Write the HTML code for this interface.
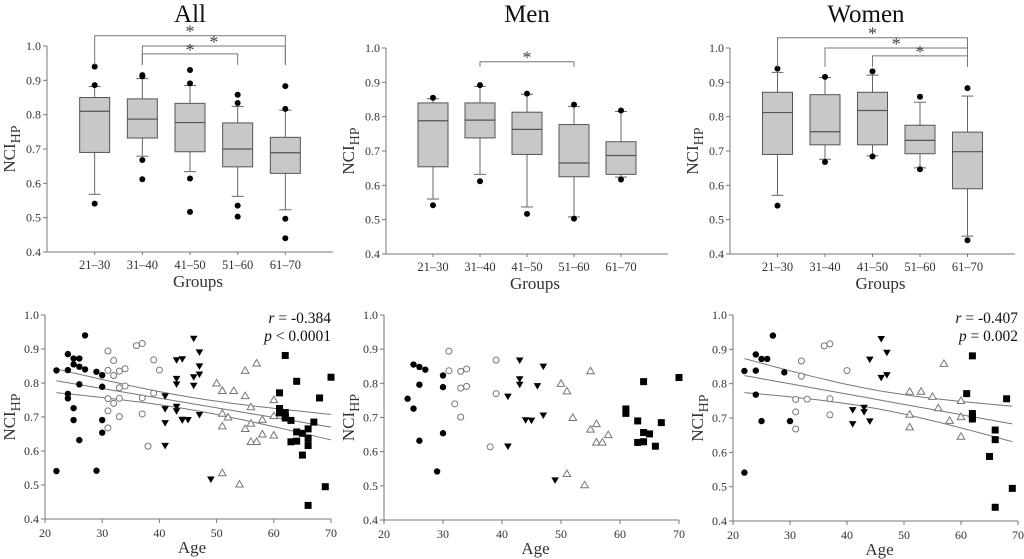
<!DOCTYPE html>
<html><head><meta charset="utf-8">
<style>
html,body{margin:0;padding:0;background:#fff;}
svg{display:block;font-family:"Liberation Serif",serif;}
</style></head>
<body>
<svg id="fig" width="1024" height="559" viewBox="0 0 1024 559"></svg>
<script>
// ---------- DATA ----------
const groups = ["21–30","31–40","41–50","51–60","61–70"];
const yTicks = ["0.4","0.5","0.6","0.7","0.8","0.9","1.0"];
const xTicksAge = ["20","30","40","50","60","70"];
// box stats per group: [whiskerLow, q1, median, q3, whiskerHigh]
const boxAll = [[0.568,0.69,0.81,0.85,0.882],[0.679,0.732,0.787,0.846,0.905],[0.634,0.692,0.777,0.833,0.885],[0.562,0.648,0.70,0.776,0.824],[0.523,0.629,0.689,0.734,0.813]];
const outAll = [[0.94,0.886,0.541],[0.915,0.912,0.668,0.612],[0.93,0.891,0.614,0.517],[0.858,0.834,0.535,0.503],[0.883,0.817,0.497,0.44]];
const boxMen = [[0.56,0.654,0.788,0.84,0.852],[0.632,0.738,0.79,0.84,0.888],[0.537,0.69,0.763,0.813,0.865],[0.508,0.625,0.665,0.777,0.83],[0.624,0.632,0.687,0.727,0.815]];
const outMen = [[0.855,0.542],[0.892,0.612],[0.867,0.517],[0.835,0.503],[0.818,0.617]];
const boxWomen = [[0.571,0.69,0.812,0.871,0.929],[0.676,0.718,0.756,0.864,0.914],[0.686,0.718,0.818,0.871,0.921],[0.651,0.692,0.731,0.775,0.842],[0.452,0.59,0.698,0.755,0.86]];
const outWomen = [[0.94,0.541],[0.916,0.668],[0.932,0.684],[0.858,0.647],[0.883,0.44]];
// significance brackets [fromGroup, toGroup, level]
const sigAll = [[0,4,1.03],[1,4,1.0],[1,3,0.977]];
const sigMen = [[1,3,0.96]];
const sigWomen = [[0,4,1.03],[1,4,1.0],[2,4,0.977]];
// scatter (age, value) per age group; men
const menAge1=[24,25,26,27,26,25,26,29,30,30,30], menVal1=[0.755,0.855,0.848,0.84,0.796,0.726,0.632,0.542,0.823,0.789,0.654];
const menAge2=[31,31,33,34,33,34,32,33,38,39,39], menVal2=[0.894,0.837,0.835,0.842,0.786,0.791,0.74,0.701,0.614,0.868,0.77];
const menAge3=[43,43,43,41,47,46,47,44,45,41,49], menVal3=[0.867,0.812,0.796,0.761,0.849,0.792,0.706,0.692,0.691,0.615,0.516];
const menAge4=[55,50,51,52,55,56,56,57,58,51,54], menVal4=[0.837,0.8,0.778,0.7,0.666,0.682,0.628,0.628,0.65,0.536,0.503];
const menAge5=[64,70,61,61,63,64,65,67,63,64,66], menVal5=[0.805,0.817,0.725,0.712,0.69,0.656,0.652,0.685,0.627,0.629,0.616];
// women
const womAge1=[22,22,24,24,24,25,26,27,29,25,30], womVal1=[0.837,0.541,0.885,0.838,0.768,0.872,0.872,0.94,0.833,0.691,0.691];
const womAge2=[36,37,32,32,40,31,33,37,31,37,31], womVal2=[0.91,0.916,0.866,0.822,0.838,0.754,0.755,0.756,0.718,0.709,0.668];
const womAge3=[46,47,44,46,47,41,43,43,44,41], womVal3=[0.93,0.89,0.87,0.817,0.825,0.723,0.73,0.717,0.69,0.682];
const womAge4=[57,51,53,55,60,56,51,60,58,51,60], womVal4=[0.859,0.778,0.778,0.763,0.751,0.73,0.711,0.704,0.693,0.674,0.647];
const womAge5=[62,61,68,62,62,62,66,66,65,69,66], womVal5=[0.881,0.771,0.756,0.713,0.703,0.697,0.665,0.637,0.588,0.495,0.44];
const statsAll = ["r = -0.384","p < 0.0001"];
const statsWomen = ["r = -0.407","p = 0.002"];

// ---------- DRAWING ----------
const svg=document.getElementById('fig');
const NS='http://www.w3.org/2000/svg';
function mk(tag,attrs,parent){const e=document.createElementNS(NS,tag);for(const k in attrs)e.setAttribute(k,attrs[k]);(parent||svg).appendChild(e);return e;}
const AX='#777', TXT='#333';

function yLabel(g,x,y){
  const t=mk('text',{x:x,y:y,'font-size':17,fill:TXT,'text-anchor':'middle',transform:`rotate(-90 ${x} ${y})`},g);
  
  
  t.appendChild(document.createTextNode('NCI'));
  const s=mk('tspan',{'font-size':14,dy:5},t);s.textContent='HP';
}

function boxPanel(name,title,titleX,x0,x1,yT,yB,box,outs,sigs){
  const g=mk('g',{});
  
  
  const ys=v=>yB-(v-0.4)/0.6*(yB-yT);
  const gx=i=>x0+(i+1)*(x1-x0)/6;
  const tt=mk('text',{x:titleX,y:22,'font-size':25,fill:'#111','text-anchor':'middle'},g);tt.textContent=title;
  
  
  mk('line',{x1:x0,y1:yT,x2:x0,y2:yB,stroke:AX,'stroke-width':1},g);
  mk('line',{x1:x0,y1:yB,x2:x1,y2:yB,stroke:AX,'stroke-width':1},g);
  yTicks.forEach(lbl=>{const v=parseFloat(lbl);const y=ys(v);
    mk('line',{x1:x0-4,y1:y,x2:x0,y2:y,stroke:AX},g);
    const t=mk('text',{x:x0-6,y:y+4,'font-size':12,fill:TXT,'text-anchor':'end'},g);t.textContent=lbl;
    
    });
  groups.forEach((lbl,i)=>{const x=gx(i);
    mk('line',{x1:x,y1:yB,x2:x,y2:yB+3,stroke:AX},g);
    const t=mk('text',{x:x,y:yB+17,'font-size':12.5,fill:TXT,'text-anchor':'middle'},g);t.textContent=lbl;
    
    
    const b=box[i];const w=30;
    const bg=mk('g',{},g);
    
    
    mk('line',{x1:x,y1:ys(b[0]),x2:x,y2:ys(b[1]),stroke:'#666'},bg);
    mk('line',{x1:x,y1:ys(b[3]),x2:x,y2:ys(b[4]),stroke:'#666'},bg);
    mk('line',{x1:x-6,y1:ys(b[0]),x2:x+6,y2:ys(b[0]),stroke:'#666'},bg);
    mk('line',{x1:x-6,y1:ys(b[4]),x2:x+6,y2:ys(b[4]),stroke:'#666'},bg);
    mk('rect',{x:x-w/2,y:ys(b[3]),width:w,height:ys(b[1])-ys(b[3]),fill:'#c8c8c8',stroke:'#555','stroke-width':1},bg);
    mk('line',{x1:x-w/2,y1:ys(b[2]),x2:x+w/2,y2:ys(b[2]),stroke:'#555','stroke-width':1.2},bg);
    outs[i].forEach(v=>{const c=mk('circle',{cx:x,cy:ys(v),r:3,fill:'#000'},bg);
      
      });
  });
  sigs.forEach(s=>{const xa=gx(s[0]),xb=gx(s[1]),y=ys(s[2]),yd=ys(0.945);
    const sg=mk('g',{},g);
    
    
    mk('polyline',{points:`${xa},${yd} ${xa},${y} ${xb},${y} ${xb},${yd}`,fill:'none',stroke:'#777'},sg);
    const t=mk('text',{x:(xa+xb)/2,y:y+2,'font-size':18,fill:'#444','text-anchor':'middle'},sg);t.textContent='*';});
  const gl=mk('text',{x:(x0+x1)/2+8,y:yB+35,'font-size':17,fill:TXT,'text-anchor':'middle'},g);gl.textContent='Groups';
  
  
  yLabel(g,x0-32,(yT+yB)/2);
}

function marker(g,type,x,y){
  let e;
  if(type===1)e=mk('circle',{cx:x,cy:y,r:3.2,fill:'#000'},g);
  else if(type===2)e=mk('circle',{cx:x,cy:y,r:3,fill:'#fff',stroke:'#777','stroke-width':1},g);
  else if(type===3)e=mk('polygon',{points:`${x-3.8},${y-3} ${x+3.8},${y-3} ${x},${y+3.5}`,fill:'#000'},g);
  else if(type===4)e=mk('polygon',{points:`${x-3.8},${y+3} ${x+3.8},${y+3} ${x},${y-3.5}`,fill:'#fff',stroke:'#777','stroke-width':1},g);
  else e=mk('rect',{x:x-3.5,y:y-3.5,width:7,height:7,fill:'#000'},g);
  
  
}

function scatterPanel(name,x0,x1,yT,yB,sets,stats,reg){
  const g=mk('g',{});
  
  
  const xs=a=>x0+(a-20)/50*(x1-x0);
  const ys=v=>yB-(v-0.4)/0.6*(yB-yT);
  mk('line',{x1:x0,y1:yT,x2:x0,y2:yB,stroke:AX},g);
  mk('line',{x1:x0,y1:yB,x2:x1,y2:yB,stroke:AX},g);
  yTicks.forEach(lbl=>{const y=ys(parseFloat(lbl));
    mk('line',{x1:x0-4,y1:y,x2:x0,y2:y,stroke:AX},g);
    const t=mk('text',{x:x0-6,y:y+4,'font-size':12,fill:TXT,'text-anchor':'end'},g);t.textContent=lbl;
    
    });
  xTicksAge.forEach(lbl=>{const x=xs(parseFloat(lbl));
    mk('line',{x1:x,y1:yB,x2:x,y2:yB+4,stroke:AX},g);
    const t=mk('text',{x:x,y:yB+18,'font-size':12,fill:TXT,'text-anchor':'middle'},g);t.textContent=lbl;
    
    });
  const al=mk('text',{x:(x0+x1)/2+4,y:yB+34,'font-size':17,fill:TXT,'text-anchor':'middle'},g);al.textContent='Age';
  
  
  yLabel(g,x0-30,(yT+yB)/2);
  if(reg){
    let X=[],Y=[];sets.forEach(s=>{X=X.concat(s[1]);Y=Y.concat(s[2]);});
    const n=X.length,mx=X.reduce((a,b)=>a+b)/n,my=Y.reduce((a,b)=>a+b)/n;
    let sxx=0,sxy=0;for(let i=0;i<n;i++){sxx+=(X[i]-mx)**2;sxy+=(X[i]-mx)*(Y[i]-my);}
    const b=sxy/sxx,a=my-b*mx;let sse=0;for(let i=0;i<n;i++)sse+=(Y[i]-a-b*X[i])**2;
    const se=Math.sqrt(sse/(n-2)),t=2.0;
    const xmin=Math.min(...X),xmax=Math.max(...X);
    [0,1,-1].forEach(k=>{let pts=[];for(let s=0;s<=40;s++){const x=xmin+(xmax-xmin)*s/40;
      const h=t*se*Math.sqrt(1/n+(x-mx)**2/sxx);pts.push(xs(x).toFixed(1)+','+ys(a+b*x+k*h).toFixed(1));}
      const l=mk('polyline',{points:pts.join(' '),fill:'none',stroke:'#777','stroke-width':1},g);
      
      });
  }
  sets.forEach(s=>{for(let i=0;i<s[1].length;i++)marker(g,s[0],xs(s[1][i]),ys(s[2][i]));});
  if(stats){
    [0,1].forEach(j=>{const parts=stats[j].split(' ');
      const t=mk('text',{x:x1,y:yT+8+j*18,'font-size':15.5,fill:'#111','text-anchor':'end'},g);
      
      
      const it=mk('tspan',{'font-style':'italic'},t);it.textContent=parts[0];
      t.appendChild(document.createTextNode(' '+parts.slice(1).join(' ')));});
  }
}

boxPanel('all-boxplot','All',190,47,333,46,252,boxAll,outAll,sigAll);
boxPanel('men-boxplot','Men',527,386,668,48,254,boxMen,outMen,sigMen);
boxPanel('women-boxplot','Women',866,730,1015,48,254,boxWomen,outWomen,sigWomen);

const menSets=[[1,menAge1,menVal1],[2,menAge2,menVal2],[3,menAge3,menVal3],[4,menAge4,menVal4],[5,menAge5,menVal5]];
const womSets=[[1,womAge1,womVal1],[2,womAge2,womVal2],[3,womAge3,womVal3],[4,womAge4,womVal4],[5,womAge5,womVal5]];
const allSets=menSets.map((s,i)=>[s[0],s[1].concat(womSets[i][1]),s[2].concat(womSets[i][2])]);
scatterPanel('all-scatter',45,331,315,519,allSets,statsAll,true);
scatterPanel('men-scatter',384,679,315,520,menSets,null,false);
scatterPanel('women-scatter',733,1018,315,521,womSets,statsWomen,true);
</script>
</body></html>
